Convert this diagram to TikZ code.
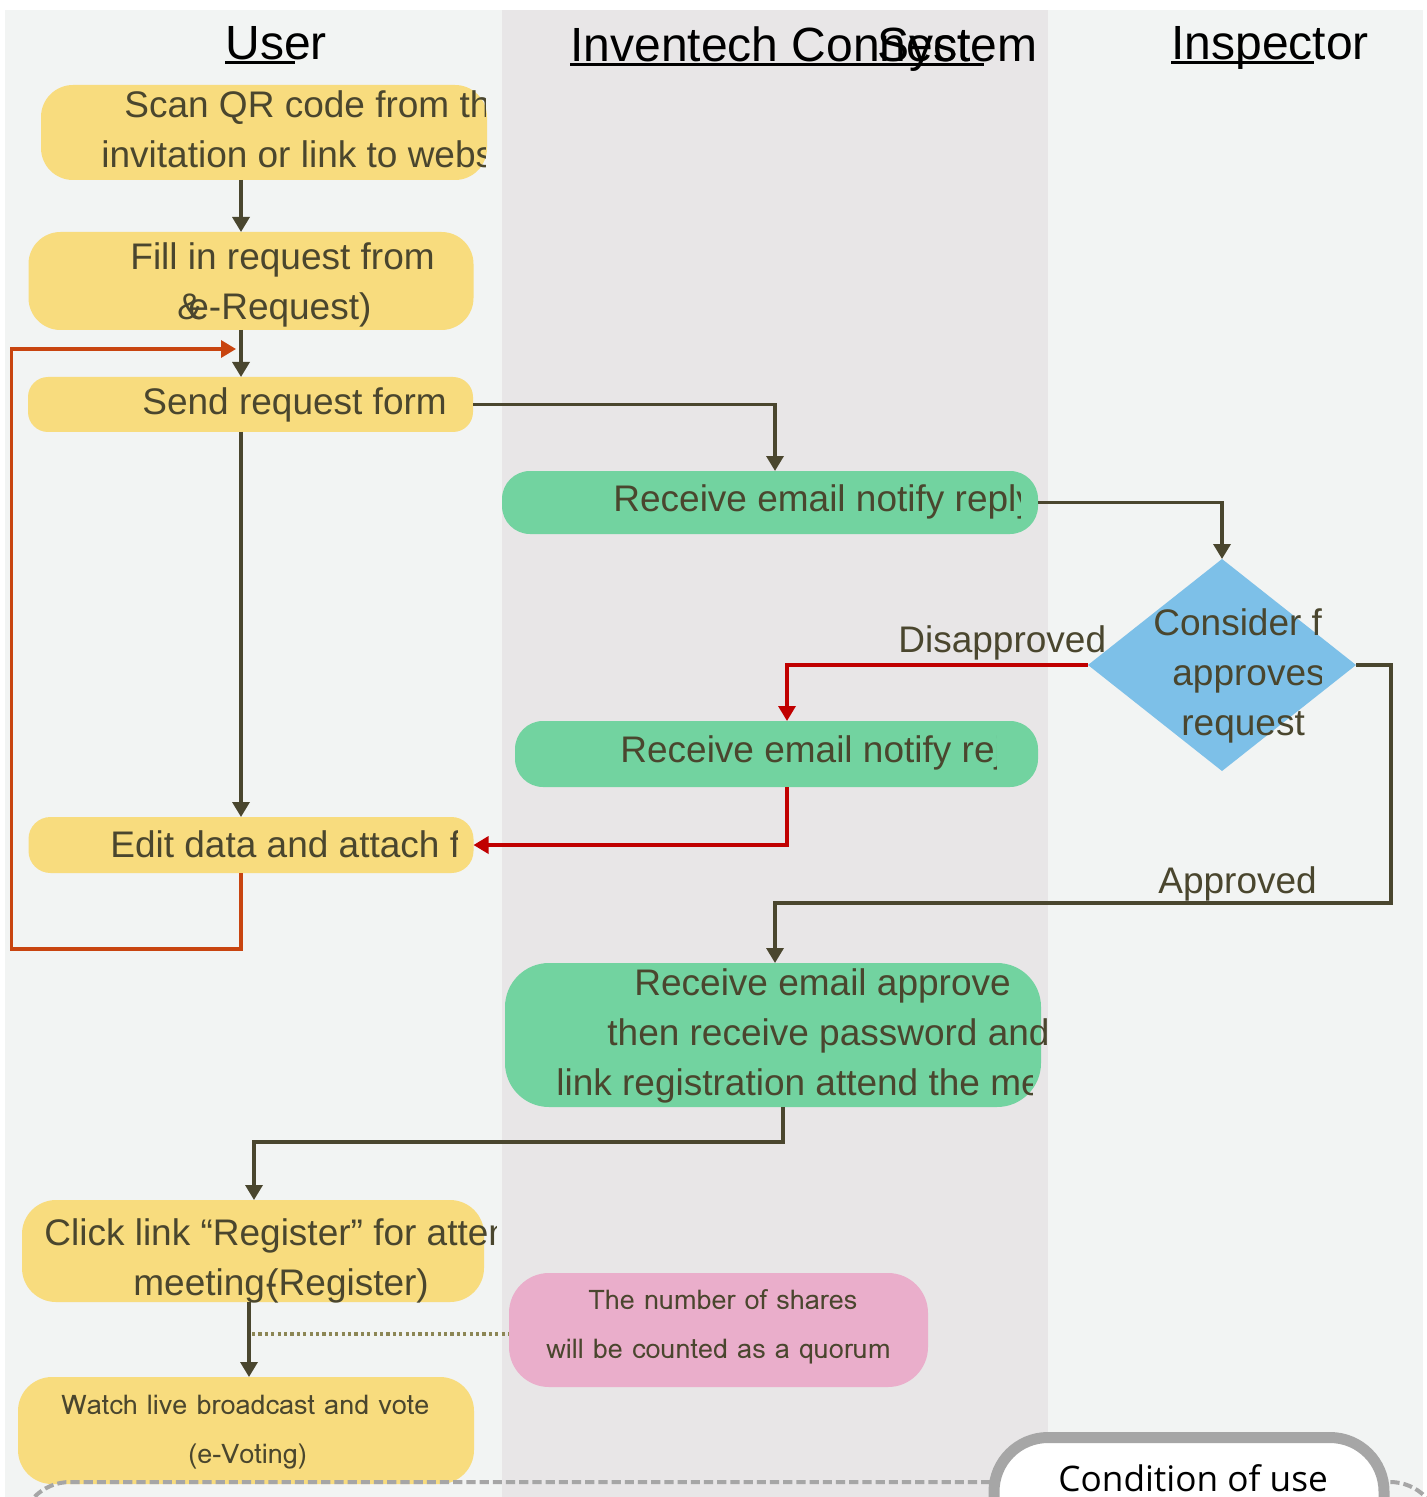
\documentclass[tikz,border=0pt]{standalone}
\usepackage{fontspec}
\setmainfont{Liberation Sans}
\newfontfamily\thfont[Script=Thai]{Loma}
\newfontfamily\cofont{Open Sans}
\usetikzlibrary{arrows.meta,shapes.geometric}

\definecolor{laneA}{HTML}{F2F4F3}
\definecolor{laneB}{HTML}{E8E6E7}
\definecolor{boxY}{HTML}{F8DC7E}
\definecolor{boxG}{HTML}{72D3A0}
\definecolor{boxB}{HTML}{7DC0E8}
\definecolor{boxP}{HTML}{EAAECB}
\definecolor{ink}{HTML}{4A462E}
\definecolor{noRed}{HTML}{C00000}
\definecolor{loopRed}{HTML}{C8440F}
\definecolor{rimGray}{HTML}{A6A6A6}
\definecolor{dotOlive}{HTML}{8C8655}

\begin{document}
\begin{tikzpicture}[x=0.5pt,y=-0.5pt,
	flow/.style={draw=ink,line width=1.7pt,-{Triangle[length=7.5pt,width=8.5pt]}},
	noflow/.style={flow,draw=noRed},
	loopflow/.style={flow,draw=loopRed},
	sz/.style 2 args={minimum width=#1*0.5pt,minimum height=#2*0.5pt,inner sep=0,outer sep=0},
	yel/.style={fill=boxY,rounded corners=16pt},
	grn/.style={fill=boxG,rounded corners=14pt},
	txt/.style={anchor=base west,inner sep=0,text=ink,font=\fontsize{18.5}{22}\selectfont},
	thtxt/.style={anchor=base west,inner sep=0,text=ink,font=\thfont\fontsize{13.5}{16}\selectfont},
	hdr/.style={anchor=base west,inner sep=0,font=\fontsize{24}{28}\selectfont},
	hdrule/.style={line width=1.5pt}]
	\useasboundingbox (0,0) rectangle (1427,1497);
	\clip (0,0) rectangle (1427,1497);
	\fill[white] (0,0) rectangle (1427,1497);
	\fill[laneA] (4.6,10) rectangle (502,1497);
	\fill[laneB] (502,10) rectangle (1048,1497);
	\fill[laneA] (1048,10) rectangle (1423,1497);

	\node[hdr] (hUser) at (225,60) {User};
	\node[hdr] (hInv) at (570,62) {Inventech Connect};
	\node[hdr] (hSys) at (877,62) {System};
	\node[hdr] (hInsp) at (1171,60) {Inspector};
	\draw[hdrule] ([yshift=-1.3pt]hUser.base west) -- ++(70,0);
	\draw[hdrule] ([yshift=-1.3pt]hInv.base west) -- ++(414,0);
	\draw[hdrule] ([yshift=-1.3pt]hInsp.base west) -- ++(143,0);

	\node[sz={446}{95},yel] (scan) at (264,132.5) {};
	\node[sz={445}{98},yel] (fill) at (251,281) {};
	\node[sz={445}{55},yel,rounded corners=10pt] (send) at (250.5,404.5) {};
	\node[sz={536}{63},grn] (recv1) at (770,502.5) {};
	\node[sz={268}{212},diamond,fill=boxB] (decide) at (1222,665) {};
	\node[sz={523}{66},grn] (recv2) at (776.5,754) {};
	\node[sz={445}{56},yel,rounded corners=11pt] (edit) at (251,845) {};
	\node[sz={536}{144},grn,rounded corners=22pt] (recv3) at (773,1035) {};
	\node[sz={462}{102},yel,rounded corners=17pt] (click) at (253,1251) {};
	\node[sz={419}{114},fill=boxP,rounded corners=20pt] (quorum) at (718.5,1330) {};
	\node[sz={456}{107},yel,rounded corners=17pt] (watch) at (246,1430.5) {};

	\begin{scope}
		\clip (0,0) rectangle (485,1497);
		\node[txt] (scanT1) at (124,118) {Scan QR code from the};
		\node[txt] (scanT2) at (101,168) {invitation or link to website};
	\end{scope}
	\node[txt] (fillT1) at (130,270) {Fill in request from};
	\node[txt] (fillT2) at (177,320) {\&};
	\node[txt] (fillT3) at (188,320) {e-Request)};
	\node[txt] (sendT) at (142,415) {Send request form};
	\begin{scope}
		\clip (0,0) rectangle (1020,1497);
		\node[txt] (recv1T) at (613,511) {Receive email notify reply};
	\end{scope}
	\begin{scope}
		\clip (0,0) rectangle (1321,1497);
		\node[txt] (decT1) at (1153,635) {Consider for};
		\node[txt] (decT2) at (1172,685) {approves};
		\node[txt] (decT3) at (1181,735) {request};
	\end{scope}
	\node[txt] (noT) at (898,652) {Disapproved};
	\begin{scope}
		\clip (0,0) rectangle (996,1497);
		\node[txt] (recv2T) at (620,762) {Receive email notify reject};
	\end{scope}
	\begin{scope}
		\clip (0,0) rectangle (457,1497);
		\node[txt] (editT) at (110,857) {Edit data and attach file};
	\end{scope}
	\node[txt] (okT) at (1158,893) {Approved};
	\node[txt] (recv3T1) at (634,995) {Receive email approve};
	\node[txt] (recv3T2) at (607,1045) {then receive password and};
	\begin{scope}
		\clip (0,0) rectangle (1032,1497);
		\node[txt] (recv3T3) at (556,1095) {link registration attend the meeting};
	\end{scope}
	\begin{scope}
		\clip (0,0) rectangle (496,1497);
		\node[txt] (clickT1) at (44,1245) {Click link “Register” for attend};
	\end{scope}
	\node[txt] (clickT2) at (133,1295) {meeting-};
	\node[txt] (clickT3) at (266,1295) {(Register)};
	\node[thtxt] (quorumT1) at (588,1309) {The number of shares};
	\node[thtxt] (quorumT2) at (546,1358) {will be counted as a quorum};
	\node[thtxt] (watchT1) at (61,1414) {Watch live broadcast and vote};
	\node[thtxt] (watchT2) at (188,1463) {(e-Voting)};

	\coordinate (colU) at (241,0);
	\coordinate (colS) at (775,0);
	\coordinate (colR) at (787,0);
	\coordinate (colK) at (783,0);
	\coordinate (colW) at (249,0);
	\coordinate (loopL) at (11.5,949);
	\coordinate (loopT) at (236,349);
	\coordinate (apprR) at (1391,903);
	\coordinate (joinK) at (254,1142);
	\coordinate (dotS) at (252,1334);

	\draw[flow] (scan.south -| colU) -- (fill.north -| colU);
	\draw[flow] (fill.south -| colU) -- (send.north -| colU);
	\draw[flow] (send.south -| colU) -- (edit.north -| colU);
	\draw[loopflow] (edit.south -| colU) |- (loopL) -- (loopL |- loopT) -- (loopT);
	\draw[flow] (send.east) -| (recv1.north -| colS);
	\draw[flow] (recv1.east) -| (decide.north);
	\draw[noflow] (decide.west) -| (recv2.north -| colR);
	\draw[noflow] (recv2.south -| colR) |- (edit.east);
	\draw[flow] (decide.east) -| (apprR) -| (recv3.north -| colS);
	\draw[flow] (recv3.south -| colK) |- (joinK) -- (click.north -| joinK);
	\draw[flow] (click.south -| colW) -- (watch.north -| colW);
	\draw[draw=dotOlive,line width=2pt,dash pattern=on 1.6pt off 1.6pt] (dotS) -- (quorum.west |- dotS);

	\draw[rimGray,line width=2pt,dash pattern=on 4.6pt off 2pt,rounded corners=25pt] (20,1482) rectangle (1440,1700);
	\node[sz={390}{125},draw=rimGray,line width=5.5pt,fill=white,rounded corners=27pt] (cond) at (1189,1500) {};
	\node[anchor=base west,inner sep=0,font=\cofont\fontsize{17.6}{20}\selectfont] (condT) at (1058,1491) {Condition of use};
\end{tikzpicture}
\end{document}
